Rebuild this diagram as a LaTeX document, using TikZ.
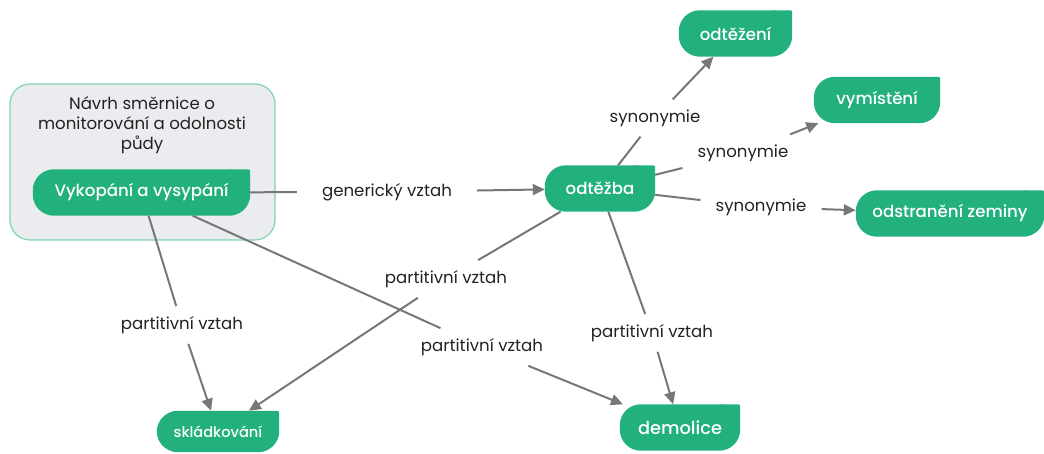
\documentclass[tikz,border=0pt]{standalone}
\usepackage{fontspec}
\setmainfont{Poppins}
\newfontfamily\pmed{Poppins Medium}
\usetikzlibrary{arrows.meta}
\definecolor{gr}{HTML}{22B07D}
\definecolor{grl}{HTML}{7FD3AE}
\definecolor{grpfill}{HTML}{EBECF0}
\definecolor{lg}{HTML}{777777}
\definecolor{txt}{HTML}{222222}
\pgfdeclarelayer{bgzero}
\pgfdeclarelayer{bgone}
\pgfsetlayers{bgzero,bgone,main}
\tikzset{
  gnode/.style={inner sep=0pt, minimum height=46pt, text=white, font=\pmed\fontsize{16.6}{19}\selectfont},
  lbl/.style={inner xsep=15pt, inner ysep=10pt, text=txt, font=\fontsize{16.6}{19}\selectfont},
  ln/.style={draw=lg, line width=2pt},
  arr/.style={draw=lg, line width=2pt, -{Triangle[length=12pt,width=11pt]}},
}
\newcommand\gbox[5][]{%
  \node[gnode, minimum width=#4, #1] (#2) at (#3) {#5};
  \begin{pgfonlayer}{bgone}
    \fill[gr, rounded corners=21pt] (#2.south west) rectangle (#2.north east);
    \fill[gr, rounded corners=2pt] ([xshift=-21pt,yshift=-21pt]#2.north east) rectangle (#2.north east);
  \end{pgfonlayer}}
\begin{document}
\begin{tikzpicture}[x=1pt,y=-1pt]
\useasboundingbox (0,0) rectangle (1044,454);
% group
\begin{pgfonlayer}{bgzero}
\node[draw=grl, fill=grpfill, line width=1.2pt, rounded corners=20pt, minimum width=265pt, minimum height=156pt] (grp) at (142.5,162) {};
\end{pgfonlayer}
\node[align=center, text=txt, font=\fontsize{16.6}{20}\selectfont] (grptitle) at (142,125) {Návrh směrnice o\\monitorování a odolnosti\\půdy};
% nodes
\gbox{vyk}{141.5,192.5}{217pt}{Vykopání a vysypání}
\gbox{odt}{600,188.5}{110pt}{odtěžba}
\gbox{odn}{735.5,33.5}{113pt}{odtěžení}
\gbox{vym}{877,100}{126pt}{vymístění}
\gbox{ods}{950,213.5}{188pt}{odstranění zeminy}
\gbox[minimum height=41pt, font=\pmed\fontsize{14.6}{17}\selectfont]{skl}{218,431.5}{122pt}{skládkování}
\gbox[font=\pmed\fontsize{17.8}{20}\selectfont]{dem}{680,427.5}{120pt}{demolice}
% labels
\node[lbl, inner xsep=25pt] (l1) at (387,192) {generický vztah};
\node[lbl] (l2) at (182,325) {partitivní vztah};
\node[lbl] (l3) at (482,347) {partitivní vztah};
\node[lbl] (l4) at (446,279) {partitivní vztah};
\node[lbl] (l5) at (652,333) {partitivní vztah};
\node[lbl] (l6) at (655,118) {synonymie};
\node[lbl] (l7) at (743,153) {synonymie};
\node[lbl] (l8) at (761,207) {synonymie};
% edges
\draw[ln] (vyk) -- (l1); \draw[arr] (l1) -- (odt);
\draw[ln] (vyk) -- (l2); \draw[arr] (l2) -- (skl);
\draw[ln] (vyk) -- (l3); \draw[arr] (l3) -- (dem);
\draw[ln] (odt) -- (l4); \draw[arr] (l4) -- (skl);
\draw[ln] (odt) -- (l5); \draw[arr] (l5) -- (dem);
\draw[ln] (odt) -- (l6); \draw[arr] (l6) -- (odn);
\draw[ln] (odt) -- (l7); \draw[arr] (l7) -- (vym);
\draw[ln] (odt) -- (l8); \draw[arr] (l8) -- (ods);
\end{tikzpicture}
\end{document}
